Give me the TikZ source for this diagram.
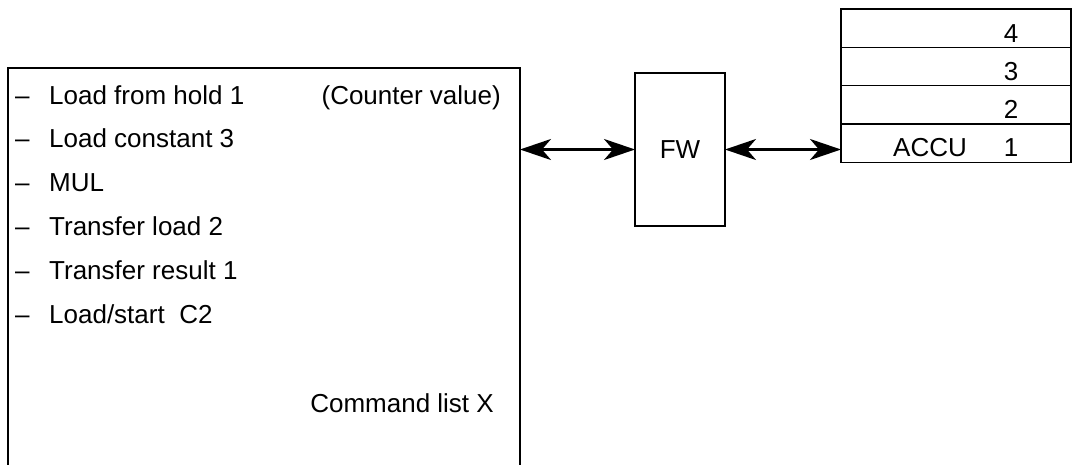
\documentclass[tikz,border=0pt]{standalone}
\usepackage{fontspec}
\setmainfont{Liberation Sans}
\usetikzlibrary{arrows.meta}
\begin{document}
\begin{tikzpicture}[x=1pt,y=-1pt,
  box/.style={draw, line width=1.3pt, inner sep=0pt, outer sep=0pt, font=\fontsize{26}{30}\selectfont},
  txt/.style={font=\fontsize{26}{30}\selectfont, inner sep=0pt},
  row/.style={box, minimum width=230pt, minimum height=38.3pt, anchor=north west},
  biarrow/.style={line width=2.8pt, {Stealth[length=31pt,width=21pt,inset=9pt]}-{Stealth[length=31pt,width=21pt,inset=9pt]}}]
\useasboundingbox (0,0) rectangle (1077,464);
\clip (0,0) rectangle (1077,464);
% command list box (open at the bottom of the picture)
\node[box, minimum width=512pt, minimum height=400pt, anchor=north west] (cmd) at (8,68) {};
% list lines
\node[txt, anchor=base west] (l1) at (15,104) {\makebox[34pt][l]{–}Load from hold 1};
\node[txt, anchor=base west] (l2) at (15,147.7) {\makebox[34pt][l]{–}Load constant 3};
\node[txt, anchor=base west] (l3) at (15,191.4) {\makebox[34pt][l]{–}MUL};
\node[txt, anchor=base west] (l4) at (15,235.5) {\makebox[34pt][l]{–}Transfer load 2};
\node[txt, anchor=base west] (l5) at (15,279.5) {\makebox[34pt][l]{–}Transfer result 1};
\node[txt, anchor=base west] (l6) at (15,323.5) {\makebox[34pt][l]{–}Load/start\hspace{0.56em}C2};
\node[txt, anchor=base east] (cv) at (501,104) {(Counter value)};
\node[txt, anchor=base east] (cl) at (494,412) {Command list X};
% FW box
\node[box, minimum width=90pt, minimum height=153pt] (fw) at (680,149.5) {FW};
% accumulator stack
\node[row] (r4) at (841,9) {};
\node[row] (r3) at (841,47.3) {};
\node[row] (r2) at (841,85.6) {};
\node[row] (r1) at (841,123.9) {};
\node[txt, anchor=base] (n4) at (1011,42) {4};
\node[txt, anchor=base] (n3) at (1011,80.3) {3};
\node[txt, anchor=base] (n2) at (1011,118.6) {2};
\node[txt, anchor=base] (n1) at (1011,156.9) {1};
\node[txt, anchor=base] (accu) at (930,156.9) {ACCU};
% connectors
\draw[biarrow] (cmd.east |- fw.west) -- (fw.west);
\draw[biarrow] (fw.east) -- (r1.west |- fw.east);
\end{tikzpicture}
\end{document}
